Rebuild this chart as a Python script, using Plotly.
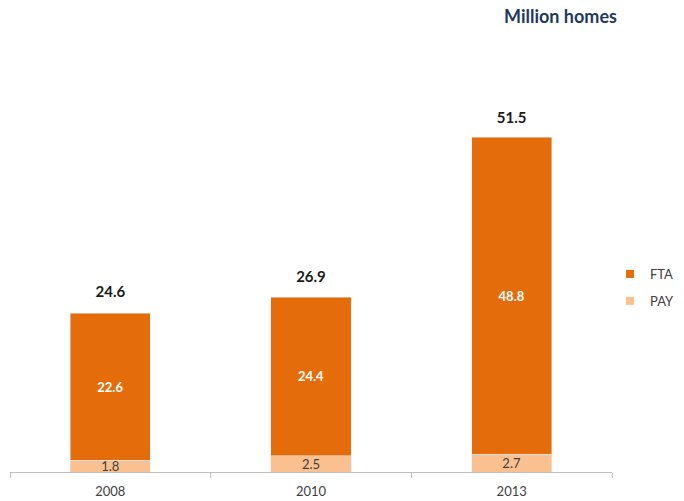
import plotly.graph_objects as go

# Homes by reception type, in millions
years = ["2008", "2010", "2013"]
pay = [1.8, 2.5, 2.7]
fta = [22.6, 24.4, 48.8]
totals = [24.6, 26.9, 51.5]

FTA_COLOR = "#E46C0A"
PAY_COLOR = "#FAC090"
FONT = "Lato, 'Open Sans', sans-serif"

fig = go.Figure()

fig.add_trace(go.Bar(
    x=years, y=pay, name="PAY", marker_color=PAY_COLOR, width=0.4,
    text=[f"{v:.1f}" for v in pay], textposition="inside", textangle=0,
    insidetextanchor="middle", constraintext="none",
    textfont=dict(family=FONT, size=13, color="#404040"),
    showlegend=False, hoverinfo="skip",
))
fig.add_trace(go.Bar(
    x=years, y=fta, name="FTA", marker_color=FTA_COLOR, width=0.4,
    text=[f"{v:.1f}" for v in fta], textposition="inside", textangle=0,
    insidetextanchor="middle", constraintext="none",
    textfont=dict(family=FONT, size=13, color="white", weight="bold"),
    showlegend=False, hoverinfo="skip",
))

# Totals above each stack (invisible marker keeps the text off the bar top)
fig.add_trace(go.Scatter(
    x=years, y=totals, mode="markers+text",
    marker=dict(size=16, color="rgba(0,0,0,0)"),
    text=[f"<b>{v:.1f}</b>" for v in totals], textposition="top center",
    textfont=dict(family=FONT, size=15, color="#1a1a1a"),
    showlegend=False, hoverinfo="skip", cliponaxis=False,
))

# Legend entries with small square swatches
for name, color in [("FTA", FTA_COLOR), ("PAY", PAY_COLOR)]:
    fig.add_trace(go.Scatter(
        x=[None], y=[None], mode="markers", name=name, legendgroup=name,
        marker=dict(symbol="square", size=8, color=color),
    ))

fig.add_annotation(
    xref="paper", yref="paper", x=(502 - 10) / 602, y=1.063,
    xanchor="left", yanchor="middle", showarrow=False,
    text="<b>Million homes</b>",
    font=dict(family=FONT, size=18, color="#1F3864"),
)

fig.update_layout(
    width=684, height=501,
    barmode="stack",
    plot_bgcolor="white", paper_bgcolor="white",
    margin=dict(l=10, r=72, t=43, b=29, autoexpand=False),
    legend=dict(
        x=(610 - 10) / 602, y=(472 - 259) / 429, xanchor="left", yanchor="top",
        font=dict(family=FONT, size=13, color="#404040"),
        traceorder="grouped", tracegroupgap=7, itemwidth=30,
        bgcolor="rgba(0,0,0,0)",
    ),
    xaxis=dict(
        type="category", range=[-0.5, 2.5],
        showline=True, linecolor="#BFBFBF", linewidth=1,
        ticks="outside", tickson="boundaries", ticklen=5, tickcolor="#BFBFBF",
        ticklabelstandoff=7,
        tickfont=dict(family=FONT, size=13, color="#404040"),
        showgrid=False,
    ),
    yaxis=dict(
        range=[0, 66], visible=False, showgrid=False, zeroline=False,
    ),
)

fig.write_html("out.html")
